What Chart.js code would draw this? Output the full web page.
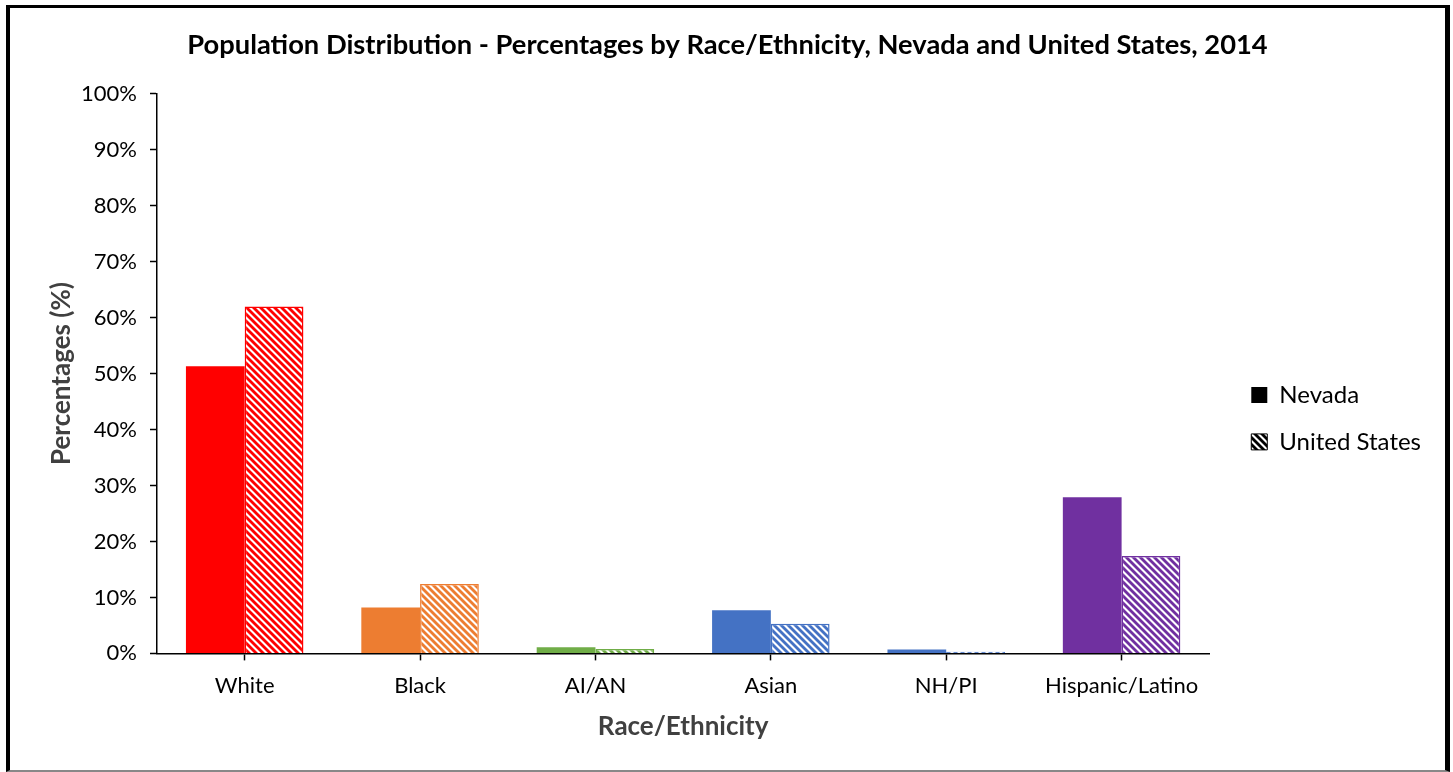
<!DOCTYPE html>
<html>
<head>
<meta charset="utf-8">
<script src="https://cdn.jsdelivr.net/npm/chart.js@4.4.1/dist/chart.umd.min.js"></script>
<style>
  html, body { margin: 0; padding: 0; background: #fff; }
  #frame {
    position: absolute; left: 6px; top: 5px; width: 1444px; height: 767px;
    box-sizing: border-box;
    border-left: 4px solid #000; border-top: 3px solid #000;
    border-right: 5px solid #000; border-bottom: 2px solid #888;
  }
  #wrap { position: absolute; left: 0; top: 0; width: 1435px; height: 762px; }
</style>
</head>
<body>
<div id="frame"><div id="wrap"><canvas id="myChart"></canvas></div></div>
<script>
  // categories and values (%)
  const categories = ['White', 'Black', 'AI/AN', 'Asian', 'NH/PI', 'Hispanic/Latino'];
  const nevada = [51.3, 8.2, 1.1, 7.7, 0.7, 27.9];
  const unitedStates = [62.0, 12.4, 0.8, 5.3, 0.3, 17.4];
  const barColors = ['#FF0000', '#ED7D31', '#70AD47', '#4472C4', '#4472C4', '#7030A0'];
  const yTicks = [0, 10, 20, 30, 40, 50, 60, 70, 80, 90, 100];

  const fontFamily = 'Lato, "Open Sans", sans-serif';

  // diagonal stripe pattern, like the Excel "wide downward diagonal"
  function makeHatch(color) {
    const n = 7;
    const c = document.createElement('canvas');
    c.width = n; c.height = n;
    const g = c.getContext('2d');
    g.fillStyle = '#fff';
    g.fillRect(0, 0, n, n);
    g.strokeStyle = color;
    g.lineWidth = 2.8;
    [-n, 0, n].forEach(k => {
      g.beginPath();
      g.moveTo(k - 1, -1);
      g.lineTo(k + n + 1, n + 1);
      g.stroke();
    });
    return g.createPattern(c, 'repeat');
  }

  const ctx = document.getElementById('myChart').getContext('2d');
  const myChart = new Chart(ctx, {
    type: 'bar',
    data: {
      labels: categories,
      datasets: [{
        label: 'Nevada',
        data: nevada,
        backgroundColor: barColors,
        borderWidth: 0
      }, {
        label: 'United States',
        data: unitedStates,
        backgroundColor: barColors.map(makeHatch),
        borderColor: barColors,
        borderWidth: 1.5
      }]
    },
    options: {
      responsive: true,
      maintainAspectRatio: false,
      animation: false,
      categoryPercentage: 0.67,
      barPercentage: 1.0,
      layout: { padding: { left: 14, right: 14, top: 0, bottom: 24 } },
      plugins: {
        title: {
          display: true,
          text: 'Population Distribution - Percentages by Race/Ethnicity, Nevada and United States, 2014',
          color: '#000',
          font: { family: fontFamily, size: 27.3, weight: 'bold' },
          padding: { top: 21, bottom: 32 }
        },
        legend: {
          display: true,
          position: 'right',
          title: {
            display: true,
            text: ' ',
            font: { family: fontFamily, size: 24 },
            padding: { top: 27, bottom: 27 }
          },
          labels: {
            color: '#000',
            font: { family: fontFamily, size: 24 },
            boxWidth: 16,
            boxHeight: 16,
            padding: 23,
            generateLabels: function(chart) {
              return [
                { text: 'Nevada', fillStyle: '#000', strokeStyle: '#000', fontColor: '#000', lineWidth: 0, datasetIndex: 0 },
                { text: 'United States', fillStyle: makeHatch('#000'), strokeStyle: '#000', fontColor: '#000', lineWidth: 1, datasetIndex: 1 }
              ];
            }
          }
        },
        tooltip: { enabled: false }
      },
      scales: {
        x: {
          grid: {
            display: true,
            offset: false,
            drawOnChartArea: false,
            drawTicks: true,
            tickLength: 7,
            color: '#000',
            tickWidth: 1.5
          },
          border: { display: true, color: '#000', width: 1.5 },
          ticks: {
            color: '#000',
            font: { family: fontFamily, size: 22 },
            padding: 12
          },
          title: {
            display: true,
            text: 'Race/Ethnicity',
            color: '#404040',
            font: { family: fontFamily, size: 26, weight: 'bold' },
            padding: { top: 0, bottom: 4 }
          }
        },
        y: {
          min: 0,
          max: 100,
          afterBuildTicks: function(axis) {
            axis.ticks = yTicks.map(v => ({ value: v }));
          },
          afterFit: function(scale) { scale.width = 133; },
          grid: {
            display: true,
            drawOnChartArea: false,
            drawTicks: true,
            tickLength: 7,
            color: '#000',
            tickWidth: 1.5
          },
          border: { display: true, color: '#000', width: 1.5 },
          ticks: {
            color: '#000',
            font: { family: fontFamily, size: 22 },
            padding: 13,
            callback: v => v + '%'
          },
          title: {
            display: true,
            text: 'Percentages (%)',
            color: '#404040',
            font: { family: fontFamily, size: 26, weight: 'bold' },
            padding: { top: 22, bottom: 4 }
          }
        },
        // empty spacer between the plot and the legend
        gap: {
          type: 'linear',
          position: 'right',
          display: true,
          grid: { display: false },
          border: { display: false },
          ticks: { display: false },
          afterFit: function(scale) { scale.width = 19; }
        }
      }
    }
  });
</script>
</body>
</html>
